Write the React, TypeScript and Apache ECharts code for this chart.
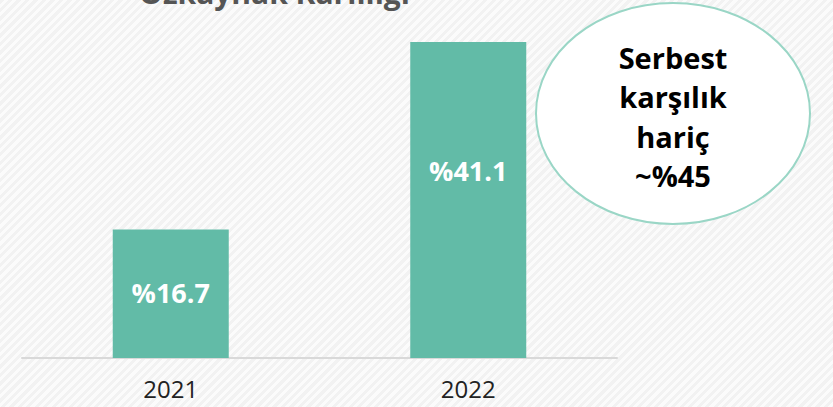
import React, { useEffect, useRef } from "react";
import * as echarts from "echarts";

const categories = ["2021", "2022"];
const values = [16.7, 41.1];
const barLabels = ["%16.7", "%41.1"];
const titleText = "Özkaynak Kârlılığı";
const calloutLines = ["Serbest", "karşılık", "hariç", "~%45"];

export default function App() {
  const ref = useRef<HTMLDivElement>(null);
  useEffect(() => {
    if (!ref.current) return;
    const chart = echarts.init(ref.current, undefined, { renderer: "svg" });
    chart.setOption({
      animation: false,
      backgroundColor: "transparent",
      grid: {
        left: 22,
        right: 216,
        top: 42,
        bottom: 49,
        containLabel: false,
        outerBoundsMode: "none",
      },
      xAxis: {
        type: "category",
        data: categories,
        axisLine: { onZero: false, lineStyle: { color: "#d9d9d9", width: 2 } },
        axisTick: { show: false },
        axisLabel: {
          color: "#222222",
          fontSize: 24,
          fontFamily: "Open Sans",
          margin: 18,
        },
      },
      yAxis: {
        type: "value",
        min: 0,
        max: 41.1,
        show: false,
        splitLine: { show: false },
      },
      series: [
        {
          type: "bar",
          barWidth: 116,
          itemStyle: { color: "#62bba7" },
          data: values.map((v, i) => ({
            value: v,
            label: {
              show: true,
              position: "inside",
              offset: i === 1 ? [0, -30] : [0, -1],
              formatter: barLabels[i],
              color: "#ffffff",
              fontSize: 27,
              fontWeight: "bold",
              fontFamily: "Open Sans",
            },
          })),
        },
      ],
      graphic: [
        {
          type: "text",
          x: 274.5,
          y: -8,
          style: {
            text: titleText,
            fill: "#555555",
            font: "bold 30px 'Open Sans'",
            textAlign: "center",
            textVerticalAlign: "middle",
          },
        },
        {
          type: "ellipse",
          shape: { cx: 673, cy: 113.5, rx: 137, ry: 110.5 },
          style: { fill: "#ffffff", stroke: "#9ad6c6", lineWidth: 2 },
        },
        {
          type: "text",
          x: 673,
          y: 116.5,
          style: {
            text: calloutLines.join("\n"),
            fill: "#000000",
            font: "bold 29px 'Open Sans'",
            lineHeight: 39.5,
            textAlign: "center",
            textVerticalAlign: "middle",
          },
        },
      ],
    });
    return () => chart.dispose();
  }, []);
  return (
    <div
      style={{
        position: "absolute",
        left: 0,
        top: 0,
        width: 833,
        height: 407,
        overflow: "hidden",
        background:
          "repeating-linear-gradient(135deg, #f2f2f2 0px, #f2f2f2 3px, #fbfbfb 3px, #fbfbfb 6px)",
      }}
    >
      <div ref={ref} style={{ width: 833, height: 407 }} />
    </div>
  );
}
